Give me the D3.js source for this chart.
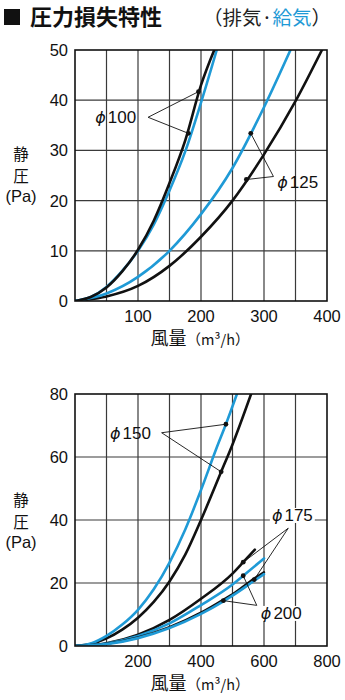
<!DOCTYPE html>
<html><head><meta charset="utf-8">
<script src="https://cdn.jsdelivr.net/npm/d3@7"></script>
<style>
html,body{margin:0;padding:0;background:#fff;}
svg{display:block;}
text{font-family:"Liberation Sans",Arial,"Noto Sans CJK JP",sans-serif;}
.jp{font-family:"Noto Sans CJK JP",sans-serif;}
</style></head>
<body>
<svg id="c" width="345" height="700"></svg>
<script>
// ---------- data ----------
const titleText = "圧力損失特性";
const subLeft = "（排気·";
const subBlue = "給気";
const subRight = "）";
const xTitle = "風量";
const xUnit = "（m³/h）";
const yTitleLines = ["静", "圧", "(Pa)"];

// top chart
const topXTicks = [100, 200, 300, 400];
const topYTicks = [0, 10, 20, 30, 40, 50];
const topXGrid = [50, 100, 150, 200, 250, 300, 350];
const d100Exhaust = [[0,0],[25,0.8],[50,2.7],[75,5.9],[100,10.2],[125,16],[150,23.5],[175,32],[200,43],[221,50]];
const d100Supply  = [[0,0],[25,0.8],[50,2.8],[75,6],[100,10],[125,15.2],[150,22],[175,29.8],[200,39.5],[225,50]];
const d125Exhaust = [[0,0],[50,0.9],[100,3],[150,7],[200,12.8],[250,20],[300,29.2],[350,39.8],[392,50]];
const d125Supply  = [[0,0],[50,1.5],[100,4.8],[150,10],[200,17.3],[250,26.5],[300,38.6],[342,50]];

// bottom chart
const botXTicks = [200, 400, 600, 800];
const botYTicks = [0, 20, 40, 60, 80];
const botXGrid = [100, 200, 300, 400, 500, 600, 700];
const d150Exhaust = [[0,0],[50,0.6],[100,2.4],[150,5.2],[200,9],[250,14],[300,20.5],[350,29],[400,40],[464,55.3],[500,64],[559,80]];
const d150Supply  = [[0,0],[50,0.8],[100,3.2],[150,6.8],[200,11.5],[250,18],[300,26.5],[350,37],[400,49.5],[450,63],[479,70.4],[514,80]];
const d175Exhaust = [[0,0],[100,0.9],[200,3.6],[300,8.3],[400,15],[500,23],[534,26.6],[571,30.6]];
const dMidSupply  = [[0,0],[100,0.8],[200,3.2],[300,7.2],[400,13],[500,19.5],[534,22.3],[600,27.8]];
const dLowExhaust = [[0,0],[100,0.7],[200,2.7],[300,6],[400,10.6],[471,14.7],[500,16.4],[569,21.4],[600,23.4]];
const dLowSupply  = [[0,0],[100,0.6],[200,2.5],[300,5.7],[400,10.2],[471,14.2],[500,16],[569,20.7],[600,22.8]];

// labels with leader lines: text, text pos, anchor, targets (data coords)
const topLabels = [
  {t:"100", tx:32, ty:36.6, ax:116, ay:36.6, pts:[[196,41.7],[180,33.4]]},
  {t:"125", tx:321, ty:23.7, ax:315, ay:24.8, pts:[[279,33.4],[272,24.2]]}
];
const botLabels = [
  {t:"150", tx:111, ty:67.7, ax:275, ay:67.7, pts:[[479,70.4],[464,55.3]]},
  {t:"175", tx:625, ty:41.6, ax:677, ay:37.4, pts:[[534,26.6],[569,21.1]]},
  {t:"200", tx:590, ty:10.5, ax:577, ay:12.9, pts:[[534,22.3],[471,14.4]]}
];

// ---------- drawing ----------
const BLUE = "#1f9ad6", BLACK = "#111";
const svg = d3.select("#c");

// title
svg.append("rect").attr("x",4).attr("y",9).attr("width",16).attr("height",16).attr("fill","#111");
svg.append("text").attr("class","jp").attr("x",30).attr("y",25).attr("font-size",22).attr("font-weight","bold").attr("fill","#111").text(titleText);
const st = svg.append("text").attr("class","jp").attr("x",203).attr("y",25).attr("font-size",19.5).attr("fill","#222");
st.append("tspan").text(subLeft);
st.append("tspan").attr("fill",BLUE).text(subBlue);
st.append("tspan").text(subRight);

function chart(cfg){
  const g = svg.append("g");
  const x = d3.scaleLinear().domain(cfg.xd).range([75, 327]);
  const y = d3.scaleLinear().domain(cfg.yd).range([cfg.bottom, cfg.top]);
  // grid
  g.selectAll(".vg").data(cfg.xGrid).join("line")
    .attr("x1",d=>x(d)).attr("x2",d=>x(d)).attr("y1",y(cfg.yd[0])).attr("y2",y(cfg.yd[1]))
    .attr("stroke","#3a3a3a").attr("stroke-width",1.2);
  g.selectAll(".hg").data(cfg.yTicks.slice(1,-1)).join("line")
    .attr("x1",x(cfg.xd[0])).attr("x2",x(cfg.xd[1])).attr("y1",d=>y(d)).attr("y2",d=>y(d))
    .attr("stroke","#3a3a3a").attr("stroke-width",1.2);
  // tick labels
  g.selectAll(".yl").data(cfg.yTicks).join("text")
    .attr("x",68).attr("y",d=>y(d)+6).attr("text-anchor","end").attr("font-size",16.5).attr("fill","#111").text(d=>d);
  g.selectAll(".xl").data(cfg.xTicks).join("text")
    .attr("x",d=>x(d)).attr("y",cfg.bottom+21).attr("text-anchor","middle").attr("font-size",16.5).attr("fill","#111").text(d=>d);
  // axis titles
  const xt = g.append("text").attr("class","jp").attr("x",200).attr("y",cfg.bottom+44).attr("text-anchor","middle").attr("fill","#111");
  xt.append("tspan").attr("font-size",18).text(xTitle);
  xt.append("tspan").attr("font-size",14.5).text(xUnit);
  const ySteps = [0, 22, 20];
  let yy = cfg.yTitleY;
  yTitleLines.forEach((s,i)=>{
    yy += ySteps[i];
    g.append("text").attr("x",21).attr("y",yy).attr("text-anchor","middle").attr("fill","#111")
      .attr("font-family",i<2?"Noto Sans CJK JP":"Liberation Sans")
      .attr("font-size",i<2?15.5:16.5).text(s);
  });
  // clip
  const cid = "clip"+cfg.id;
  svg.append("clipPath").attr("id",cid).append("rect")
    .attr("x",x(cfg.xd[0])).attr("y",y(cfg.yd[1])).attr("width",x(cfg.xd[1])-x(cfg.xd[0])).attr("height",y(cfg.yd[0])-y(cfg.yd[1]));
  const line = d3.line().x(d=>x(d[0])).y(d=>y(d[1])).curve(d3.curveMonotoneX);
  const cg = g.append("g").attr("clip-path",`url(#${cid})`);
  cfg.series.forEach(s=>{
    cg.append("path").attr("d",line(s.data)).attr("fill","none").attr("stroke",s.color).attr("stroke-width",s.w||2.6).attr("stroke-linecap","round");
  });
  // frame
  g.append("rect").attr("x",x(cfg.xd[0])).attr("y",y(cfg.yd[1])).attr("width",x(cfg.xd[1])-x(cfg.xd[0])).attr("height",y(cfg.yd[0])-y(cfg.yd[1]))
    .attr("fill","none").attr("stroke","#111").attr("stroke-width",1.6);
  // labels
  cfg.labels.forEach(l=>{
    l.pts.forEach(p=>{
      g.append("line").attr("x1",x(l.ax)).attr("y1",y(l.ay)).attr("x2",x(p[0])).attr("y2",y(p[1]))
        .attr("stroke","#111").attr("stroke-width",0.9);
      g.append("circle").attr("cx",x(p[0])).attr("cy",y(p[1])).attr("r",2.4).attr("fill","#111");
    });
    const t = g.append("text").attr("x",x(l.tx)).attr("y",y(l.ty)+6).attr("font-size",17).attr("fill","#111");
    t.append("tspan").attr("font-family","DejaVu Sans").attr("font-style","italic").attr("font-size",16).text("ϕ");
    t.append("tspan").attr("dx",2).text(l.t);
    if(l.bg){
      const bb = t.node().getBBox();
      g.insert("rect", "text:last-child").attr("x",bb.x-2).attr("y",bb.y+2).attr("width",bb.width+4).attr("height",bb.height-4).attr("fill","#fff");
      t.raise();
    }
  });
}

chart({id:1, xd:[0,400], yd:[0,50], top:50, bottom:301, xTicks:topXTicks, yTicks:topYTicks, xGrid:topXGrid, yTitleY:160,
  series:[{data:d125Exhaust,color:BLACK},{data:d125Supply,color:BLUE},{data:d100Supply,color:BLUE},{data:d100Exhaust,color:BLACK}],
  labels:topLabels});

botLabels[1].bg = true; botLabels[2].bg = true;
chart({id:2, xd:[0,800], yd:[0,80], top:394, bottom:646, xTicks:botXTicks, yTicks:botYTicks, xGrid:botXGrid, yTitleY:506,
  series:[{data:d150Exhaust,color:BLACK},{data:d150Supply,color:BLUE},{data:d175Exhaust,color:BLACK},{data:dMidSupply,color:BLUE},{data:dLowExhaust,color:BLACK,w:2.4},{data:dLowSupply,color:BLUE,w:2.6}],
  labels:botLabels});
</script>
</body></html>
